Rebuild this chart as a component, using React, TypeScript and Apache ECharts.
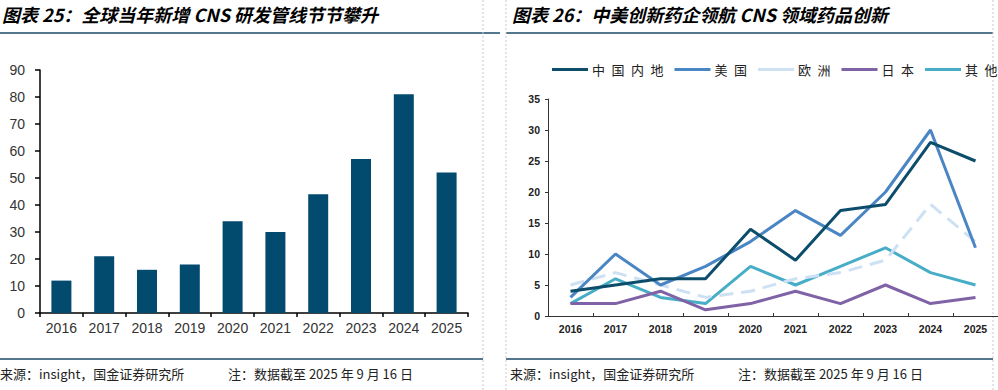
import React, { useEffect, useRef } from "react";
import * as echarts from "echarts";

const years = ["2016", "2017", "2018", "2019", "2020", "2021", "2022", "2023", "2024", "2025"];
const pipelineNew = [12, 21, 16, 18, 34, 30, 44, 57, 81, 52];

const seriesNames = ["中国内地", "美国", "欧洲", "日本", "其他"];
const chinaMainland = [4, 5, 6, 6, 14, 9, 17, 18, 28, 25];
const usa = [3, 10, 5, 8, 12, 17, 13, 20, 30, 11];
const europe = [5, 7, 5, 3, 4, 6, 7, 9, 18, 12];
const japan = [2, 2, 4, 1, 2, 4, 2, 5, 2, 3];
const others = [2, 6, 3, 2, 8, 5, 8, 11, 7, 5];

const leftTitle = "图表 25：全球当年新增 CNS 研发管线节节攀升";
const rightTitle = "图表 26：中美创新药企领航 CNS 领域药品创新";
const footnote = "来源：insight，国金证券研究所               注：数据截至 2025 年 9 月 16 日";

const CJK = '"Noto Sans CJK SC", "Liberation Sans", sans-serif';
const NUM = '"Liberation Sans", Arial, sans-serif';

export default function App() {
  const ref = useRef<HTMLDivElement>(null);
  useEffect(() => {
    if (!ref.current) return;
    const chart = echarts.init(ref.current, null, { renderer: "svg" });
    const lineColors = ["#0d4d6c", "#4a86c4", "#cde1f3", "#8062a6", "#48adc7"];
    const lineData = [chinaMainland, usa, europe, japan, others];
    chart.setOption({
      animation: false,
      backgroundColor: "#ffffff",
      grid: [
        { left: 40, right: 530, top: 70, bottom: 77, containLabel: false },
        { left: 548, right: 0, top: 99, bottom: 74, containLabel: false },
      ],
      legend: {
        top: 58,
        left: 547,
        width: 500,
        padding: 5,
        itemWidth: 36,
        itemHeight: 14,
        itemGap: 11,
        data: seriesNames,
        icon: "path://M0,6 L36,6 L36,9 L0,9 Z",
        formatter: (n: string) => n.split("").join("\u2002"),
        textStyle: { fontFamily: CJK, fontSize: 13, color: "#222", padding: [0, 0, 0, -1] },
      },
      xAxis: [
        {
          gridIndex: 0,
          type: "category",
          data: years,
          axisLine: { lineStyle: { color: "#000", width: 1.5 } },
          axisTick: { show: true, alignWithLabel: false, length: 4, lineStyle: { color: "#000", width: 1.5 } },
          axisLabel: { fontFamily: NUM, fontSize: 14, color: "#333", margin: 8 },
        },
        {
          gridIndex: 1,
          type: "category",
          data: years,
          axisLine: { lineStyle: { color: "#333", width: 1 } },
          axisTick: { show: true, inside: true, length: 3, lineStyle: { color: "#333" } },
          axisLabel: { fontFamily: NUM, fontSize: 10.5, fontWeight: "bold", color: "#222", margin: 7 },
        },
      ],
      yAxis: [
        {
          gridIndex: 0,
          type: "value",
          min: 0,
          max: 90,
          interval: 10,
          splitLine: { show: false },
          axisLine: { show: true, lineStyle: { color: "#000", width: 1.5 } },
          axisTick: { show: true, length: 5, lineStyle: { color: "#000", width: 1.5 } },
          axisLabel: { fontFamily: NUM, fontSize: 14, color: "#333", margin: 15 },
        },
        {
          gridIndex: 1,
          type: "value",
          min: 0,
          max: 35,
          interval: 5,
          splitLine: { show: false },
          axisLine: { show: true, lineStyle: { color: "#333", width: 1 } },
          axisTick: { show: true, length: 3, lineStyle: { color: "#333" } },
          axisLabel: { fontFamily: NUM, fontSize: 10.5, fontWeight: "bold", color: "#222", margin: 8 },
        },
      ],
      series: [
        {
          type: "bar",
          xAxisIndex: 0,
          yAxisIndex: 0,
          data: pipelineNew,
          barWidth: 20,
          itemStyle: { color: "#034a6f" },
        },
        ...seriesNames.map((name, i) => ({
          name,
          type: "line",
          xAxisIndex: 1,
          yAxisIndex: 1,
          data: lineData[i],
          showSymbol: false,
          symbol: "none",
          z: 10 - i,
          lineStyle: {
            color: lineColors[i],
            width: 3,
            type: i === 2 ? [14, 8] : "solid",
          },
          itemStyle: { color: lineColors[i] },
        })),
      ],
      graphic: [
        { type: "text", left: 2, top: 5, style: { text: leftTitle, font: `italic bold 18px ${CJK}`, fill: "#000" } },
        { type: "text", left: 512, top: 5, style: { text: rightTitle, font: `italic bold 18px ${CJK}`, fill: "#000" } },
        { type: "line", shape: { x1: 0, y1: 33, x2: 500, y2: 33 }, style: { stroke: "#1d4a68", lineWidth: 1.5 } },
        { type: "line", shape: { x1: 506, y1: 33, x2: 993, y2: 33 }, style: { stroke: "#1d4a68", lineWidth: 1.5 } },
        { type: "line", shape: { x1: 0, y1: 359, x2: 483, y2: 359 }, style: { stroke: "#1d4a68", lineWidth: 1.5 } },
        { type: "line", shape: { x1: 506, y1: 359, x2: 993, y2: 359 }, style: { stroke: "#1d4a68", lineWidth: 1.5 } },
        { type: "line", shape: { x1: 483, y1: 0, x2: 483, y2: 390 }, style: { stroke: "#c8c8c8", lineWidth: 1, lineDash: [2, 2] } },
        { type: "line", shape: { x1: 506, y1: 0, x2: 506, y2: 390 }, style: { stroke: "#c8c8c8", lineWidth: 1, lineDash: [2, 2] } },
        { type: "line", shape: { x1: 993, y1: 0, x2: 993, y2: 390 }, style: { stroke: "#c8c8c8", lineWidth: 1, lineDash: [2, 2] } },
        { type: "text", left: 0, top: 367, style: { text: footnote, font: `13px ${CJK}`, fill: "#222" } },
        { type: "text", left: 510, top: 367, style: { text: footnote, font: `13px ${CJK}`, fill: "#222" } },
      ],
    });
    return () => chart.dispose();
  }, []);
  return (
    <div
      ref={ref}
      style={{ position: "fixed", left: 0, top: 0, width: 998, height: 390, background: "#fff" }}
    />
  );
}
